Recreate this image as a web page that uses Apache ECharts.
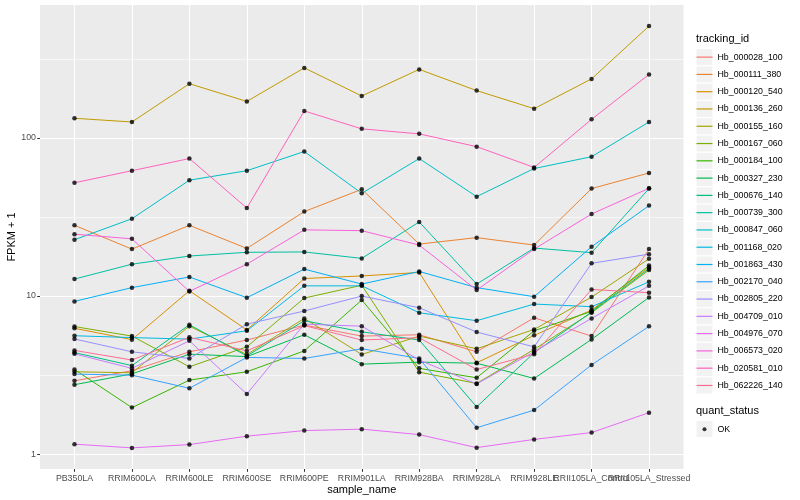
<!DOCTYPE html>
<html>
<head>
<meta charset="utf-8">
<script src="https://cdn.jsdelivr.net/npm/echarts@6/dist/echarts.min.js"></script>
<style>
html,body{margin:0;padding:0;background:#fff;}
#chart{width:800px;height:500px;}
</style>
</head>
<body>
<div id="chart"></div>
<script>
const categories = ['PB350LA','RRIM600LA','RRIM600LE','RRIM600SE','RRIM600PE','RRIM901LA','RRIM928BA','RRIM928LA','RRIM928LE','RRII105LA_Control','RRII105LA_Stressed'];

const trackingIds = ['Hb_000028_100','Hb_000111_380','Hb_000120_540','Hb_000136_260','Hb_000155_160','Hb_000167_060','Hb_000184_100','Hb_000327_230','Hb_000676_140','Hb_000739_300','Hb_000847_060','Hb_001168_020','Hb_001863_430','Hb_002170_040','Hb_002805_220','Hb_004709_010','Hb_004976_070','Hb_006573_020','Hb_020581_010','Hb_062226_140'];

const colors = ['#F8766D','#EA8331','#D89000','#C09B00','#A3A500','#7CAE00','#39B600','#00BB4E','#00BF7D','#00C1A3','#00BFC4','#00BAE0','#00B0F6','#35A2FF','#9590FF','#C77CFF','#E76BF3','#FA62DB','#FF62BC','#FF6C91'];

const Hb_000028_100 = [2.91,3.37,4.44,5.27,6.55,5.58,5.69,4.44,7.29,5.58,19.8];
const Hb_000111_380 = [28,19.8,28,20,34.2,47.3,21.3,23.4,21,47.8,60];
const Hb_000120_540 = [6.25,5.3,10.8,6.1,12.9,13.4,14.1,3.78,5.64,8.15,15.2];
const Hb_000136_260 = [133,126,220,170,277,184,271,199,153,236,509];
const Hb_000155_160 = [3.32,3.27,6.45,4.27,7.22,4.27,5.58,4.64,6.15,9.85,17.2];
const Hb_000167_060 = [6.41,5.58,3.57,4.77,9.71,11.7,3.30,2.8,4.6,7.84,14.6];
const Hb_000184_100 = [3.43,1.97,2.94,3.32,4.5,9.44,3.49,3.04,6.03,8.0,15.6];
const Hb_000327_230 = [2.75,3.22,4.29,4.14,5.69,3.71,3.82,3.76,3.01,5.32,9.8];
const Hb_000676_140 = [4.39,3.63,6.58,4.18,6.98,5.94,5.27,1.99,4.38,7.92,14.9];
const Hb_000739_300 = [12.8,15.9,17.9,18.9,19.0,17.3,29.4,11.9,20.1,18.8,47.8];
const Hb_000847_060 = [22.7,30.8,54,62,82,44.6,74,42.5,64,76,126];
const Hb_001168_020 = [5.61,5.46,5.34,6.03,11.6,11.6,7.84,6.98,8.9,8.56,12.3];
const Hb_001863_430 = [9.25,11.3,13.2,9.76,14.8,11.9,14.3,11.3,9.9,20.5,37.3];
const Hb_002170_040 = [3.21,3.16,2.61,4.09,4.03,4.64,4.03,1.47,1.9,3.67,6.43];
const Hb_002805_220 = [5.35,4.44,4.03,6.64,8.04,10.0,8.43,5.92,4.77,16.1,18.4];
const Hb_004709_010 = [4.31,3.49,5.21,2.4,6.64,6.45,3.94,2.78,4.45,7.22,11.6];
const Hb_004976_070 = [1.157,1.096,1.15,1.30,1.41,1.44,1.33,1.10,1.24,1.37,1.83];
const Hb_006573_020 = [24.6,23,10.7,15.9,26.2,25.9,21,10.9,19.8,33,48];
const Hb_020581_010 = [52,62,74,36,148,114,106,88,65,131,252];
const Hb_062226_140 = [4.53,3.94,5.48,4.5,6.5,5.27,5.45,3.43,4.29,11.0,10.5];

const seriesValues = [Hb_000028_100,Hb_000111_380,Hb_000120_540,Hb_000136_260,Hb_000155_160,Hb_000167_060,Hb_000184_100,Hb_000327_230,Hb_000676_140,Hb_000739_300,Hb_000847_060,Hb_001168_020,Hb_001863_430,Hb_002170_040,Hb_002805_220,Hb_004709_010,Hb_004976_070,Hb_006573_020,Hb_020581_010,Hb_062226_140];

const yTicks = [1, 10, 100];
const yMinorGrid = [Math.pow(10,0.5), Math.pow(10,1.5), Math.pow(10,2.5)];
const xTicks = categories.map((c, i) => i);
const xTicksEven = xTicks.filter(i => i % 2 === 0);
const xTicksOdd = xTicks.filter(i => i % 2 === 1);

const FONT = '"Liberation Sans", Arial, Helvetica, sans-serif';

const chart = echarts.init(document.getElementById('chart'), null, {renderer: 'canvas'});

const series = [];
// minor half-decade grid lines
series.push({
  type: 'line', name: '_grid', data: [], silent: true, z: 1,
  markLine: {
    silent: true, z: 1, symbol: ['none','none'], animation: false,
    label: {show: false},
    lineStyle: {color: '#FFFFFF', width: 0.6, type: 'solid', opacity: 1},
    emphasis: {disabled: true},
    data: yMinorGrid.map(v => ({yAxis: v}))
  }
});
trackingIds.forEach((id, k) => {
  series.push({
    type: 'line', name: id, z: 2,
    data: seriesValues[k].map((v, i) => [i, v]),
    showSymbol: false, symbol: 'none',
    lineStyle: {color: colors[k], width: 1},
    itemStyle: {color: colors[k]},
    emphasis: {disabled: true},
    animation: false
  });
});
const okPoints = [];
seriesValues.forEach(arr => arr.forEach((v, i) => okPoints.push([i, v])));
series.push({
  type: 'scatter', name: 'OK', z: 3,
  data: okPoints, symbol: 'circle', symbolSize: 4.5,
  itemStyle: {color: '#000000'},
  emphasis: {disabled: true},
  animation: false
});

const legendCommon = {
  orient: 'vertical', left: 696.5, padding: 0, itemGap: 0,
  itemWidth: 16, itemHeight: 16, selectedMode: false,
  textStyle: {fontFamily: FONT, fontSize: 8.8, color: '#000000', lineHeight: 17.28}
};

const xLabelStyle = {fontFamily: FONT, fontSize: 8.8, color: '#4D4D4D'};
const catFormatter = v => (Number.isInteger(v) && categories[v] !== undefined) ? categories[v] : '';

const option = {
  backgroundColor: '#FFFFFF',
  animation: false,
  title: [
    {text: 'tracking_id', left: 696, top: 33.5, padding: 0,
     textStyle: {fontFamily: FONT, fontSize: 11, fontWeight: 'normal', color: '#000000'}},
    {text: 'quant_status', left: 696, top: 405, padding: 0,
     textStyle: {fontFamily: FONT, fontSize: 11, fontWeight: 'normal', color: '#000000'}}
  ],
  grid: {left: 40, right: 116.5, top: 5, bottom: 31, containLabel: false, outerBoundsMode: 'none',
         show: true, backgroundColor: '#EBEBEB', borderWidth: 0},
  xAxis: [{
    type: 'value', min: -0.6, max: 10.6, splitNumber: 11, minInterval: 1, maxInterval: 1,
    position: 'bottom',
    name: 'sample_name', nameLocation: 'middle', nameGap: 15, nameMoveOverlap: false,
    nameTextStyle: {fontFamily: FONT, fontSize: 11, color: '#000000', verticalAlign: 'top'},
    axisLine: {show: false, onZero: false},
    axisTick: {show: true, length: 2.8, lineStyle: {color: '#333333', width: 1}, customValues: xTicks},
    axisLabel: Object.assign({show: true, margin: 5, customValues: xTicksEven, hideOverlap: false,
      showMinLabel: true, showMaxLabel: true, formatter: catFormatter}, xLabelStyle),
    splitLine: {show: true, lineStyle: {color: '#FFFFFF', width: 1.1}}
  }, {
    type: 'value', min: -0.6, max: 10.6, splitNumber: 11, minInterval: 1, maxInterval: 1,
    position: 'bottom', offset: 0,
    axisLine: {show: false, onZero: false},
    axisTick: {show: false},
    axisLabel: Object.assign({show: true, margin: 5, customValues: xTicksOdd, hideOverlap: false,
      showMinLabel: true, showMaxLabel: true, formatter: catFormatter}, xLabelStyle),
    splitLine: {show: false}
  }],
  yAxis: {
    type: 'log', logBase: 10, min: 0.806, max: 692,
    name: 'FPKM + 1', nameLocation: 'middle', nameGap: 23, nameRotate: 90, nameMoveOverlap: false,
    nameTextStyle: {fontFamily: FONT, fontSize: 11, color: '#000000'},
    axisLine: {show: false, onZero: false},
    axisTick: {show: true, length: 2.8, lineStyle: {color: '#333333', width: 1}, customValues: yTicks},
    axisLabel: {show: true, margin: 4, fontFamily: FONT, fontSize: 8.8, color: '#4D4D4D',
      customValues: yTicks, hideOverlap: false, showMinLabel: true, showMaxLabel: true,
      formatter: v => String(Math.round(v))},
    splitLine: {show: true, lineStyle: {color: '#FFFFFF', width: 1.1}},
    minorSplitLine: {show: false}
  },
  legend: [
    Object.assign({}, legendCommon, {
      top: 48.5, data: trackingIds.map(n => ({name: n})), icon: 'rect', z: 4,
      itemStyle: {color: '#F2F2F2', borderWidth: 0, opacity: 1},
      textStyle: Object.assign({}, legendCommon.textStyle, {color: 'rgba(0,0,0,0)'})
    }),
    Object.assign({}, legendCommon, {
      top: 48.5, data: trackingIds.map(n => ({name: n})), z: 5,
      icon: 'path://M0,0M16,16M0,7.4H16V8.6H0Z',
      itemStyle: {borderWidth: 0, opacity: 1}
    }),
    Object.assign({}, legendCommon, {
      top: 420.5, data: [{name: 'OK'}], icon: 'rect', z: 4,
      itemStyle: {color: '#F2F2F2', borderWidth: 0, opacity: 1},
      textStyle: Object.assign({}, legendCommon.textStyle, {color: 'rgba(0,0,0,0)'})
    }),
    Object.assign({}, legendCommon, {
      top: 420.5, data: [{name: 'OK'}], z: 5,
      icon: 'path://M0,0M16,16M10,8A2,2,0,1,1,6,8A2,2,0,1,1,10,8Z',
      itemStyle: {color: '#000000', borderWidth: 0}
    })
  ],
  series: series
};
chart.setOption(option);
</script>
</body>
</html>
